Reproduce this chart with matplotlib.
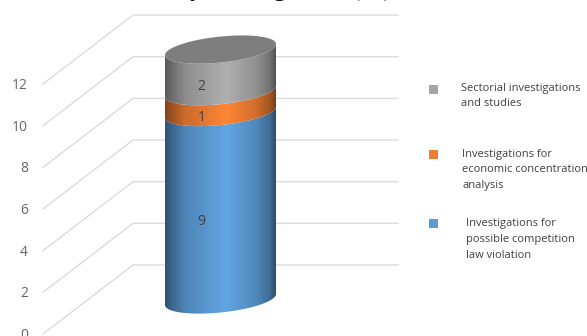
import numpy as np
import matplotlib
matplotlib.use("Agg")
import matplotlib.pyplot as plt
from matplotlib.colors import LinearSegmentedColormap, to_rgb
from matplotlib.patches import Polygon, Rectangle

ticks = [0, 2, 4, 6, 8, 10, 12]
series_names = [
    "Investigations for\npossible competition\nlaw violation",
    "Investigations for\neconomic concentration\nanalysis",
    "Sectorial investigations\nand studies",
]
series_values = [9, 1, 2]
band_colors = ["#62a6e4", "#ff8636", "#b0b0b0"]
legend_colors = ["#5b9bd5", "#ed7d31", "#a5a5a5"]
title = "Activity investigations (%)"

W, H = 587, 336
UNIT = 20.83          # pixels per unit on the value axis
DEPTH = 69 / UNIT     # rise of the side wall, in value units
CX, RX = 220.5, 55.5  # cylinder centre and half width
RY = 13 / UNIT        # ellipse half height
TILT = 5.5 / UNIT     # ellipse tilt

plt.rcParams["font.family"] = ["Open Sans", "DejaVu Sans"]

fig = plt.figure(figsize=(W / 100, H / 100), dpi=100, facecolor="white")
ax = fig.add_axes([0, 0, 1, 1])
ax.axis("off")
lax = fig.add_axes([0, 0, 1, 1], facecolor="none")
lax.set_xlim(0, W)
lax.set_ylim(H, 0)
lax.axis("off")


def ellipse_pts(v, t):
    base = v + DEPTH / 2
    return CX + RX * np.cos(t), base + TILT * np.cos(t) + RY * np.sin(t)


# side wall and back wall grid
for v in ticks:
    ax.plot([43, 133, 398], [v, v + DEPTH, v + DEPTH], color="#dcdcdc", lw=1, zorder=1)
    ax.text(28, v - 1.5 / UNIT, str(v), ha="right", va="center", fontsize=10, color="#666666")

# shaded bands of the cylinder, bottom up
shade_pos = [0, 0.05, 0.18, 0.55, 0.82, 0.95, 1]
shade_amt = [0.5, 0.6, 0.8, 1, 0.82, 0.64, 0.46]
front = np.linspace(np.pi, 2 * np.pi, 80)
bottom = 0
for value, color in zip(series_values, band_colors):
    top = bottom + value
    rgb = np.array(to_rgb(color))
    cmap = LinearSegmentedColormap.from_list(
        "band", [(p, tuple(rgb * a)) for p, a in zip(shade_pos, shade_amt)]
    )
    x0, y0 = ellipse_pts(bottom, front)
    x1, y1 = ellipse_pts(top, front)
    pts = np.column_stack([np.r_[x0, x1[::-1]], np.r_[y0, y1[::-1]]])
    im = ax.imshow(
        np.linspace(0, 1, 256).reshape(1, -1),
        cmap=cmap,
        extent=(CX - RX, CX + RX, y0.min() - 1, y1.max() + 1),
        aspect="auto",
        zorder=2 + bottom * 0.01,
        interpolation="bilinear",
    )
    im.set_clip_path(Polygon(pts, closed=True, transform=ax.transData))
    ax.text(CX - 19, (bottom + top) / 2 + DEPTH / 2 - RY - 3 / UNIT, str(value), ha="center",
            va="center", fontsize=10, color="#404040", zorder=5)
    bottom = top

# cap
t = np.linspace(0, 2 * np.pi, 160)
cap_x, cap_y = ellipse_pts(bottom, t)
ax.add_patch(Polygon(np.column_stack([cap_x, cap_y]), closed=True, facecolor="#7e7e7e",
                     edgecolor="none", zorder=4))

ax.set_xlim(0, W)
ax.set_ylim(-2 / UNIT, 334 / UNIT)

# legend, top entry first
legend_y = [223, 154, 89]
legend_text_x = [466, 462.5, 461]
legend_text_y = [239.5, 170, 96]
for name, color, ly, tx, ty in zip(series_names, legend_colors, legend_y, legend_text_x, legend_text_y):
    lax.add_patch(Rectangle((429, ly - 4.5), 9, 9, facecolor=color, edgecolor="none"))
    lax.text(tx, ty, name, ha="left", va="center", fontsize=8, color="#404040", linespacing=1.62)

# heading runs past the top edge
lax.text(122, -4, title, ha="left", va="baseline", fontsize=17, fontweight="bold",
         family="Liberation Serif", color="black")

fig.savefig("out.png", dpi=100)
